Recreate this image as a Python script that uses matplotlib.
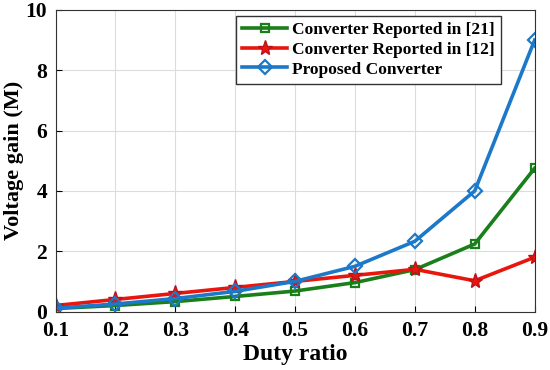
import matplotlib
matplotlib.use("Agg")
import matplotlib.pyplot as plt

duty = [0.1, 0.2, 0.3, 0.4, 0.5, 0.6, 0.7, 0.8, 0.9]
gain_21 = [0.10, 0.20, 0.33, 0.50, 0.68, 0.96, 1.39, 2.24, 4.75]
gain_12 = [0.20, 0.40, 0.60, 0.80, 1.00, 1.20, 1.40, 1.02, 1.80]
gain_prop = [0.11, 0.25, 0.43, 0.67, 1.00, 1.50, 2.33, 4.00, 9.00]
labels = ["Converter Reported in [21]", "Converter Reported in [12]", "Proposed Converter"]
xticks = [0.1, 0.2, 0.3, 0.4, 0.5, 0.6, 0.7, 0.8, 0.9]
yticks = [0, 2, 4, 6, 8, 10]

plt.rcParams['font.family'] = ['Liberation Serif', 'DejaVu Serif']
plt.rcParams['font.weight'] = 'bold'

fig = plt.figure(figsize=(5.5, 3.7), dpi=100)
ax = fig.add_axes([0.101, 0.158, 0.871, 0.815])

ax.plot(duty, gain_21, color='#1a7f1a', lw=2.6, marker='s', ms=6,
        mfc='none', mec='#1a7f1a', mew=1.6, label=labels[0])
ax.plot(duty, gain_12, color='#e8160c', lw=2.6, marker='*', ms=11,
        mfc='#e8160c', mec='#c0101a', label=labels[1])
ax.plot(duty, gain_prop, color='#1c78c8', lw=2.6, marker='D', ms=7,
        mfc='none', mec='#1c78c8', mew=1.6, label=labels[2])

ax.set_xlim(0.1, 0.9)
ax.set_ylim(0, 10)
ax.set_xticks(xticks)
ax.set_xticklabels([f"{v:.1f}" for v in xticks])
ax.set_yticks(yticks)
ax.set_yticklabels([str(v) for v in yticks])
ax.tick_params(direction='in', labelsize=15.5, length=4, width=0.8)
ax.tick_params(axis='x', pad=7)
ax.tick_params(axis='y', pad=6)
for lab in ax.get_xticklabels() + ax.get_yticklabels():
    lab.set_fontweight('bold')
ax.grid(True, color='#dcdcdc', lw=0.8)
for s in ax.spines.values():
    s.set_color('#333333')
    s.set_linewidth(0.8)

ax.set_xlabel('Duty ratio', fontsize=17, fontweight='bold', labelpad=2)
ax.set_ylabel('Voltage gain (M)', fontsize=16, fontweight='bold')
ax.yaxis.set_label_coords(-0.066, 0.5)

leg = ax.legend(loc='upper right', bbox_to_anchor=(0.93, 0.98), borderaxespad=0,
                frameon=True, fancybox=False, edgecolor='#333333',
                framealpha=1, handlelength=2.6, borderpad=0.35, labelspacing=0.2,
                handletextpad=0.3, prop={'weight': 'bold', 'size': 12.5})
leg.get_frame().set_linewidth(1.0)

fig.savefig('out.png', dpi=100)
